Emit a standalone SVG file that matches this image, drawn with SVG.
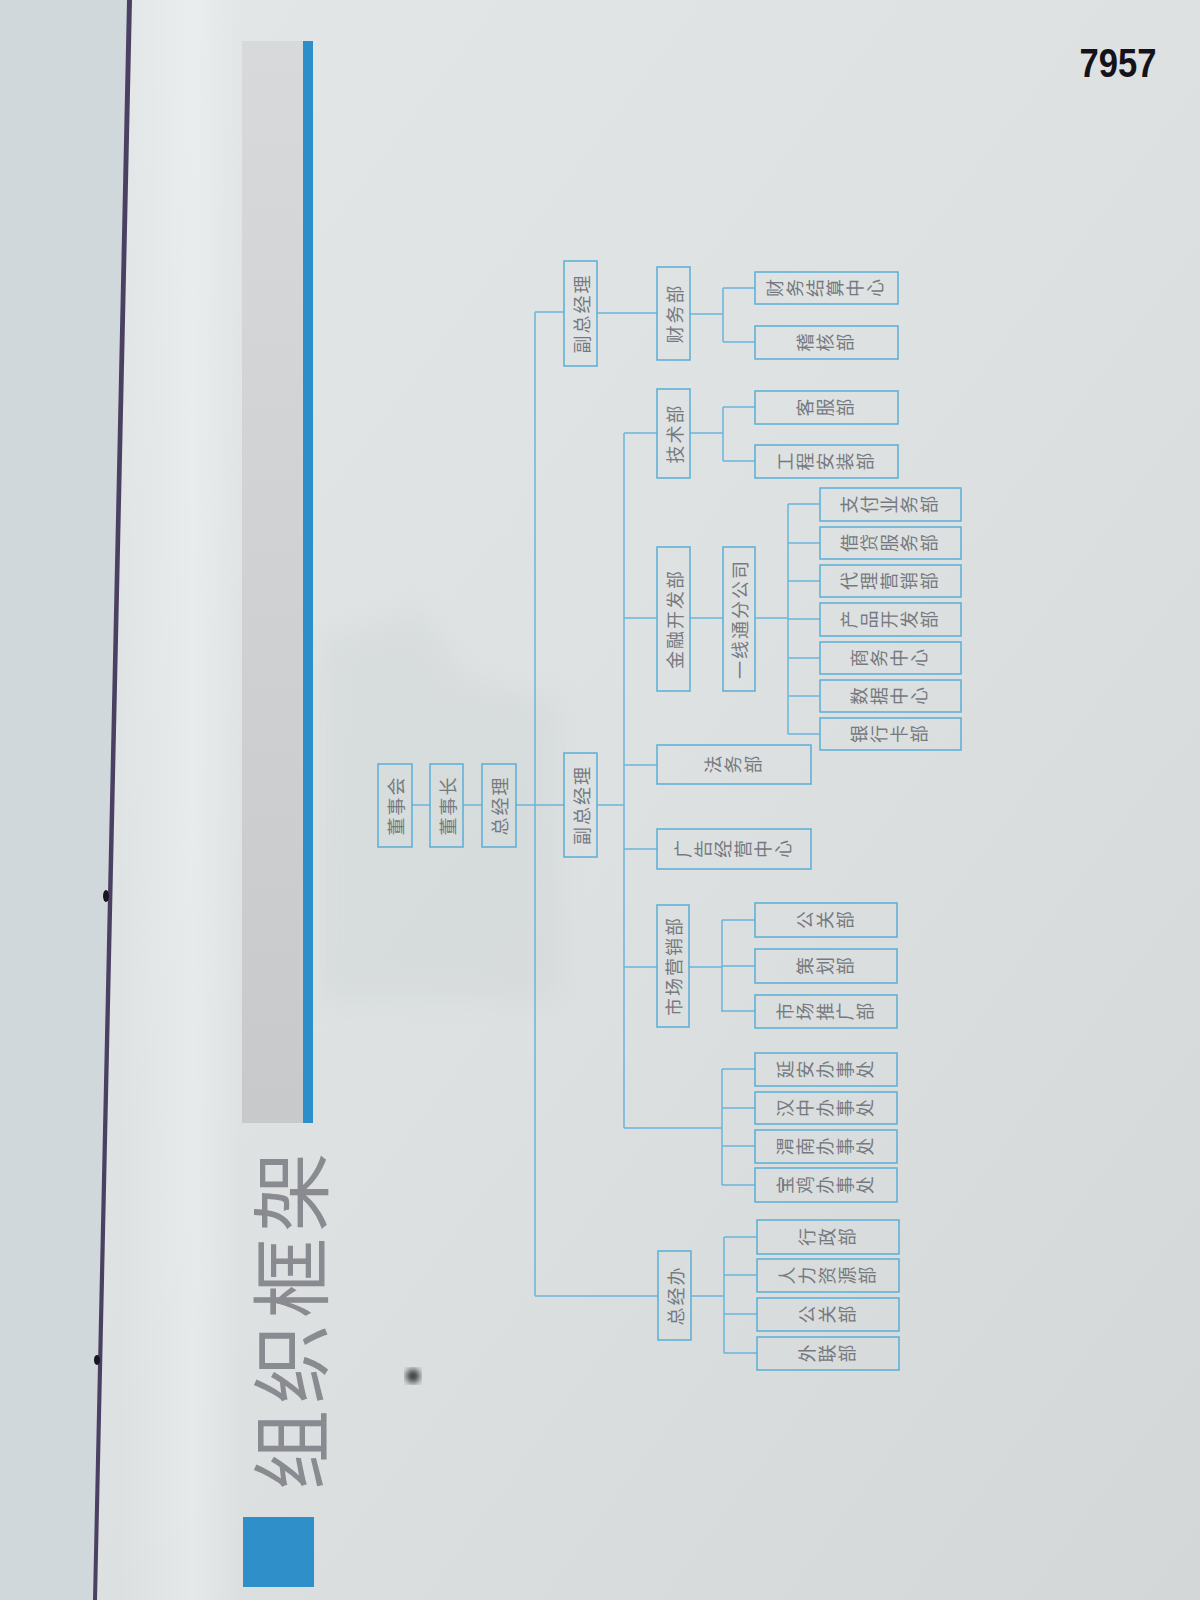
<svg xmlns="http://www.w3.org/2000/svg" width="1200" height="1600" viewBox="0 0 1200 1600">
<defs>
<linearGradient id="pageGrad" x1="0" y1="0" x2="1" y2="1">
<stop offset="0" stop-color="#e3e7e7"/>
<stop offset="0.5" stop-color="#dde1e1"/>
<stop offset="1" stop-color="#d3d7d7"/>
</linearGradient>
<linearGradient id="stripGrad" x1="0" y1="0" x2="1" y2="0">
<stop offset="0" stop-color="#ffffff" stop-opacity="0"/>
<stop offset="0.6" stop-color="#ffffff" stop-opacity="0.3"/>
<stop offset="1" stop-color="#ffffff" stop-opacity="0"/>
</linearGradient>
<linearGradient id="bandGrad" x1="0" y1="0" x2="0" y2="1">
<stop offset="0" stop-color="#d7d9da"/>
<stop offset="1" stop-color="#c8c9cb"/>
</linearGradient>
<filter id="blur8"><feGaussianBlur stdDeviation="14"/></filter>
<filter id="blur3"><feGaussianBlur stdDeviation="3"/></filter>
<style>
.box{fill:none;stroke:#5aaed6;stroke-width:1.5}
.ln{fill:none;stroke:#6bb5da;stroke-width:1.5}
.lbl{font-family:"Noto Sans CJK SC","Noto Sans",sans-serif;font-size:18px;fill:#777980;text-anchor:middle;dominant-baseline:central;letter-spacing:2px}
.vl{font-family:"Noto Sans CJK SC","Noto Sans",sans-serif;font-size:18px;fill:#777980;text-anchor:middle;dominant-baseline:central;letter-spacing:2px;writing-mode:vertical-rl}
</style>
</defs>

<!-- page background -->
<rect x="0" y="0" width="1200" height="1600" fill="url(#pageGrad)"/>
<rect x="120" y="0" width="122" height="1600" fill="url(#stripGrad)"/>
<!-- faint watermark -->
<path d="M320,640 L420,610 L470,680 L560,700 L560,1000 L320,1000 Z" fill="#c9cfd0" opacity="0.3" filter="url(#blur8)"/>
<!-- left page -->
<polygon points="0,0 129,0 94,1600 0,1600" fill="#d0d8db"/>
<polygon points="127,0 132,0 97,1600 93,1600" fill="#4a4062"/>
<ellipse cx="106" cy="896" rx="3" ry="6" fill="#1a1420"/>
<ellipse cx="97" cy="1360" rx="3" ry="5" fill="#1a1420"/>

<!-- header band -->
<rect x="242" y="41" width="61" height="1082" fill="url(#bandGrad)"/>
<rect x="303" y="41" width="10" height="1082" fill="#2d8fca"/>
<rect x="243" y="1517" width="71" height="70" fill="#2f8fc8"/>
<text transform="translate(286,1321) rotate(-90)" font-family="Noto Sans CJK SC, Noto Sans, sans-serif" font-size="80" fill="#8a8a91" text-anchor="middle" dominant-baseline="central" textLength="338" lengthAdjust="spacing">组织框架</text>

<!-- smudge -->
<circle cx="413" cy="1376" r="7" fill="#3a3a3e" filter="url(#blur3)"/>

<!-- page number -->
<text x="1118" y="77" font-family="Liberation Sans, Arial, sans-serif" font-weight="bold" font-size="40" fill="#15121a" text-anchor="middle" textLength="77" lengthAdjust="spacingAndGlyphs">7957</text>

<!-- connectors -->
<g id="connectors">
<path class="ln" d="M412,805 H430 M463,805 H482 M516,805 H564"/>
<path class="ln" d="M535,312 V1296"/>
<path class="ln" d="M535,312 H564 M597,313 H657"/>
<path class="ln" d="M690,314 H723 M723,288 V342 M723,288 H755 M723,342 H755"/>
<path class="ln" d="M597,805 H624 M624,433 V1128"/>
<path class="ln" d="M624,433 H657 M690,433 H723 M723,407 V461 M723,407 H755 M723,461 H755"/>
<path class="ln" d="M624,618 H657 M690,618 H723 M755,618 H788 M788,504 V734"/>
<path class="ln" d="M788,504 H820 M788,543 H820 M788,581 H820 M788,619 H820 M788,658 H820 M788,696 H820 M788,734 H820"/>
<path class="ln" d="M624,765 H657 M624,849 H657"/>
<path class="ln" d="M624,967 H657 M689,967 H722 M722,920 V1012 M722,920 H755 M722,966 H755 M722,1011 H755"/>
<path class="ln" d="M624,1128 H722 M722,1069 V1185 M722,1069 H755 M722,1108 H755 M722,1146 H755 M722,1185 H755"/>
<path class="ln" d="M535,1296 H658 M691,1296 H724 M724,1237 V1353 M724,1237 H757 M724,1275 H757 M724,1314 H757 M724,1353 H757"/>
</g>

<!-- nodes -->
<g id="n-dongshihui"><rect class="box" x="378" y="764" width="34" height="83"/><text class="lbl" transform="translate(395,805.5) rotate(-90)">董事会</text></g>
<g id="n-dongshizhang"><rect class="box" x="430" y="764" width="33" height="83"/><text class="lbl" transform="translate(446.5,805.5) rotate(-90)">董事长</text></g>
<g id="n-zongjingli"><rect class="box" x="482" y="764" width="34" height="83"/><text class="lbl" transform="translate(499,805.5) rotate(-90)">总经理</text></g>

<g id="n-fuzong1"><rect class="box" x="564" y="261" width="33" height="105"/><text class="lbl" transform="translate(580.5,313.5) rotate(-90)">副总经理</text></g>
<g id="n-fuzong2"><rect class="box" x="564" y="753" width="33" height="104"/><text class="lbl" transform="translate(580.5,805) rotate(-90)">副总经理</text></g>

<g id="n-caiwu"><rect class="box" x="657" y="267" width="33" height="93"/><text class="lbl" transform="translate(673.5,313.5) rotate(-90)">财务部</text></g>
<g id="n-caiwujiesuan"><rect class="box" x="755" y="272" width="143" height="32"/><text class="vl" transform="translate(826.5,288) rotate(-90)">财务结算中心</text></g>
<g id="n-jihe"><rect class="box" x="755" y="326" width="143" height="33"/><text class="vl" transform="translate(826.5,342.5) rotate(-90)">稽核部</text></g>

<g id="n-jishu"><rect class="box" x="657" y="389" width="33" height="89"/><text class="lbl" transform="translate(673.5,433.5) rotate(-90)">技术部</text></g>
<g id="n-kefu"><rect class="box" x="755" y="391" width="143" height="33"/><text class="vl" transform="translate(826.5,407.5) rotate(-90)">客服部</text></g>
<g id="n-gongcheng"><rect class="box" x="755" y="445" width="143" height="33"/><text class="vl" transform="translate(826.5,461.5) rotate(-90)">工程安装部</text></g>

<g id="n-jinrong"><rect class="box" x="657" y="547" width="33" height="144"/><text class="lbl" transform="translate(673.5,619) rotate(-90)">金融开发部</text></g>
<g id="n-yixiantong"><rect class="box" x="723" y="547" width="32" height="144"/><text class="lbl" transform="translate(739,619) rotate(-90)">一线通分公司</text></g>
<g id="n-zhifu"><rect class="box" x="820" y="488" width="141" height="33"/><text class="vl" transform="translate(890.5,504.5) rotate(-90)">支付业务部</text></g>
<g id="n-jiedai"><rect class="box" x="820" y="527" width="141" height="32"/><text class="vl" transform="translate(890.5,543) rotate(-90)">借贷服务部</text></g>
<g id="n-daili"><rect class="box" x="820" y="565" width="141" height="32"/><text class="vl" transform="translate(890.5,581) rotate(-90)">代理营销部</text></g>
<g id="n-chanpin"><rect class="box" x="820" y="603" width="141" height="33"/><text class="vl" transform="translate(890.5,619.5) rotate(-90)">产品开发部</text></g>
<g id="n-shangwu"><rect class="box" x="820" y="642" width="141" height="32"/><text class="vl" transform="translate(890.5,658) rotate(-90)">商务中心</text></g>
<g id="n-shuju"><rect class="box" x="820" y="680" width="141" height="32"/><text class="vl" transform="translate(890.5,696) rotate(-90)">数据中心</text></g>
<g id="n-yinhangka"><rect class="box" x="820" y="718" width="141" height="32"/><text class="vl" transform="translate(890.5,734) rotate(-90)">银行卡部</text></g>

<g id="n-fawu"><rect class="box" x="657" y="745" width="154" height="39"/><text class="vl" transform="translate(734,764.5) rotate(-90)">法务部</text></g>
<g id="n-guanggao"><rect class="box" x="657" y="829" width="154" height="40"/><text class="vl" transform="translate(734,849) rotate(-90)">广告经营中心</text></g>

<g id="n-shichang"><rect class="box" x="657" y="905" width="32" height="122"/><text class="lbl" transform="translate(673,966) rotate(-90)">市场营销部</text></g>
<g id="n-gongguan1"><rect class="box" x="755" y="903" width="142" height="34"/><text class="vl" transform="translate(826,920) rotate(-90)">公关部</text></g>
<g id="n-cehua"><rect class="box" x="755" y="949" width="142" height="34"/><text class="vl" transform="translate(826,966) rotate(-90)">策划部</text></g>
<g id="n-tuiguang"><rect class="box" x="755" y="995" width="142" height="33"/><text class="vl" transform="translate(826,1011.5) rotate(-90)">市场推广部</text></g>

<g id="n-yanan"><rect class="box" x="755" y="1053" width="142" height="33"/><text class="vl" transform="translate(826,1069.5) rotate(-90)">延安办事处</text></g>
<g id="n-hanzhong"><rect class="box" x="755" y="1092" width="142" height="32"/><text class="vl" transform="translate(826,1108) rotate(-90)">汉中办事处</text></g>
<g id="n-weinan"><rect class="box" x="755" y="1130" width="142" height="33"/><text class="vl" transform="translate(826,1146.5) rotate(-90)">渭南办事处</text></g>
<g id="n-baoji"><rect class="box" x="755" y="1168" width="142" height="34"/><text class="vl" transform="translate(826,1185) rotate(-90)">宝鸡办事处</text></g>

<g id="n-zongjingban"><rect class="box" x="658" y="1251" width="33" height="89"/><text class="lbl" transform="translate(674.5,1295.5) rotate(-90)">总经办</text></g>
<g id="n-xingzheng"><rect class="box" x="757" y="1220" width="142" height="34"/><text class="vl" transform="translate(828,1237) rotate(-90)">行政部</text></g>
<g id="n-renli"><rect class="box" x="757" y="1259" width="142" height="33"/><text class="vl" transform="translate(828,1275.5) rotate(-90)">人力资源部</text></g>
<g id="n-gongguan2"><rect class="box" x="757" y="1298" width="142" height="33"/><text class="vl" transform="translate(828,1314.5) rotate(-90)">公关部</text></g>
<g id="n-wailian"><rect class="box" x="757" y="1337" width="142" height="33"/><text class="vl" transform="translate(828,1353.5) rotate(-90)">外联部</text></g>
</svg>
